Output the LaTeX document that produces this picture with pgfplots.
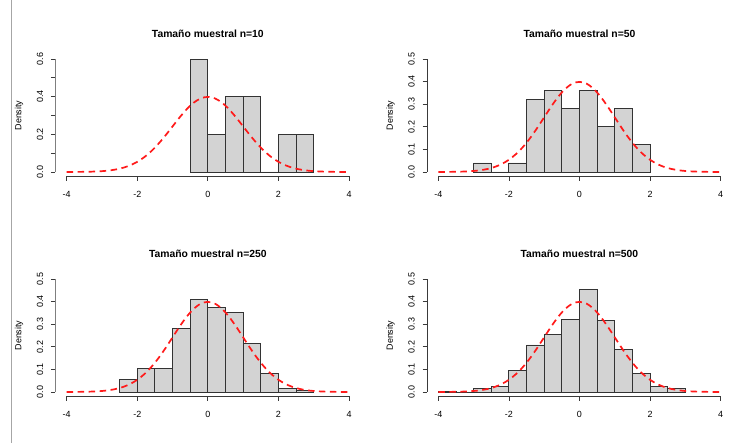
\documentclass[border=0pt]{standalone}
\usepackage{pgfplots}
\pgfplotsset{compat=1.18}
\usepackage{fontspec}
\setmainfont{Liberation Sans}

\definecolor{histfill}{HTML}{D3D3D3}
\definecolor{histline}{HTML}{333333}
\definecolor{axisgray}{HTML}{3A3A3A}
\definecolor{curvered}{HTML}{FF1A1A}

% histogram bins: centre and density (bin width 0.5)
\pgfplotstableread{
x     d
-0.25 0.60
 0.25 0.20
 0.75 0.40
 1.25 0.40
 1.75 0.00
 2.25 0.20
 2.75 0.20
}\histA
\pgfplotstableread{
x     d
-2.75 0.04
-2.25 0.00
-1.75 0.04
-1.25 0.32
-0.75 0.36
-0.25 0.28
 0.25 0.36
 0.75 0.20
 1.25 0.28
 1.75 0.12
}\histB
\pgfplotstableread{
x     d
-2.25 0.056
-1.75 0.104
-1.25 0.104
-0.75 0.280
-0.25 0.408
 0.25 0.376
 0.75 0.352
 1.25 0.216
 1.75 0.080
 2.25 0.016
 2.75 0.008
}\histC
\pgfplotstableread{
x     d
-3.75 0.004
-3.25 0.000
-2.75 0.016
-2.25 0.024
-1.75 0.096
-1.25 0.208
-0.75 0.256
-0.25 0.320
 0.25 0.452
 0.75 0.316
 1.25 0.188
 1.75 0.080
 2.25 0.024
 2.75 0.016
}\histD
% reference density curve
\pgfplotstableread{
x    y
-4.0 0.0001
-3.8 0.0003
-3.6 0.0006
-3.4 0.0012
-3.2 0.0024
-3.0 0.0044
-2.8 0.0079
-2.6 0.0136
-2.4 0.0224
-2.2 0.0355
-2.0 0.0540
-1.8 0.0790
-1.6 0.1109
-1.4 0.1497
-1.2 0.1942
-1.0 0.2420
-0.8 0.2897
-0.6 0.3332
-0.4 0.3683
-0.2 0.3910
 0.0 0.3989
 0.2 0.3910
 0.4 0.3683
 0.6 0.3332
 0.8 0.2897
 1.0 0.2420
 1.2 0.1942
 1.4 0.1497
 1.6 0.1109
 1.8 0.0790
 2.0 0.0540
 2.2 0.0355
 2.4 0.0224
 2.6 0.0136
 2.8 0.0079
 3.0 0.0044
 3.2 0.0024
 3.4 0.0012
 3.6 0.0006
 3.8 0.0003
 4.0 0.0001
}\curve

\tikzset{rframe/.style={axisgray, line width=0.75bp}}

\pgfplotsset{
  rhist/.style={
    scale only axis, width=304.9bp, height=122bp,
    xmin=-4.32, xmax=4.32,
    axis x line*=bottom, axis y line*=left,
    axis line style={draw=none},
    xtick={-4,-2,0,2,4}, xticklabels={-4,-2,0,2,4},
    tick align=outside, major tick length=4.5bp,
    every tick/.style={axisgray, line width=0.75bp},
    xticklabel style={anchor=north, inner sep=0pt},
    xticklabel shift=10.5bp,
    yticklabel style={anchor=south, rotate=90, inner sep=0pt},
    yticklabel shift=7.6bp,
    every axis y label/.style={at={(rel axis cs:0,0.5)}, xshift=-36.4bp,
      rotate=90, anchor=center},
    ylabel={Density},
    every axis title/.style={at={(rel axis cs:0.5,1)}, yshift=20.5bp,
      anchor=center, font=\bfseries\fontsize{10.4}{12.5}\selectfont},
  },
  yfive/.style={
    ymin=-0.02, ymax=0.52,
    ytick={0,0.1,0.2,0.3,0.4,0.5},
    yticklabels={0.0,0.1,0.2,0.3,0.4,0.5},
  },
  bars/.style={ybar, bar width=0.5, bar shift=0pt, fill=histfill,
    draw=histline, line width=0.85bp},
  dens/.style={curvered, line width=1.7bp, dash pattern=on 6.5bp off 4.5bp,
    smooth},
}

\begin{document}
\begin{tikzpicture}[font=\fontsize{9}{10.8}\selectfont]
\useasboundingbox (0,0) rectangle (744bp,443bp);
\draw[gray!70, line width=1bp] (11.7bp,0) -- (11.7bp,443bp);

% n = 10
\begin{axis}[rhist, at={(55.4bp,266.5bp)}, anchor=south west,
  ymin=-0.024, ymax=0.624,
  ytick={0,0.1,0.2,0.3,0.4,0.5,0.6},
  yticklabels={0.0,,0.2,,0.4,,0.6},
  title={Tamaño muestral n=10}]
  \addplot[bars] table[x=x, y=d] {\histA};
  \addplot[dens] table[x=x, y=y] {\curve};
  \draw[rframe] ({axis cs:-4,0} |- {rel axis cs:0,0}) -- ({axis cs:4,0} |- {rel axis cs:0,0});
  \draw[rframe] ({rel axis cs:0,0} |- {axis cs:0,0}) -- ({rel axis cs:0,0} |- {axis cs:0,0.6});
\end{axis}

% n = 50
\begin{axis}[rhist, yfive, at={(427bp,266.5bp)}, anchor=south west,
  title={Tamaño muestral n=50}]
  \addplot[bars] table[x=x, y=d] {\histB};
  \addplot[dens] table[x=x, y=y] {\curve};
  \draw[rframe] ({axis cs:-4,0} |- {rel axis cs:0,0}) -- ({axis cs:4,0} |- {rel axis cs:0,0});
  \draw[rframe] ({rel axis cs:0,0} |- {axis cs:0,0}) -- ({rel axis cs:0,0} |- {axis cs:0,0.5});
\end{axis}

% n = 250
\begin{axis}[rhist, yfive, at={(55.4bp,46.5bp)}, anchor=south west,
  title={Tamaño muestral n=250}]
  \addplot[bars] table[x=x, y=d] {\histC};
  \addplot[dens] table[x=x, y=y] {\curve};
  \draw[rframe] ({axis cs:-4,0} |- {rel axis cs:0,0}) -- ({axis cs:4,0} |- {rel axis cs:0,0});
  \draw[rframe] ({rel axis cs:0,0} |- {axis cs:0,0}) -- ({rel axis cs:0,0} |- {axis cs:0,0.5});
\end{axis}

% n = 500
\begin{axis}[rhist, yfive, at={(427bp,46.5bp)}, anchor=south west,
  title={Tamaño muestral n=500}]
  \addplot[bars] table[x=x, y=d] {\histD};
  \addplot[dens] table[x=x, y=y] {\curve};
  \draw[rframe] ({axis cs:-4,0} |- {rel axis cs:0,0}) -- ({axis cs:4,0} |- {rel axis cs:0,0});
  \draw[rframe] ({rel axis cs:0,0} |- {axis cs:0,0}) -- ({rel axis cs:0,0} |- {axis cs:0,0.5});
\end{axis}
\end{tikzpicture}
\end{document}
